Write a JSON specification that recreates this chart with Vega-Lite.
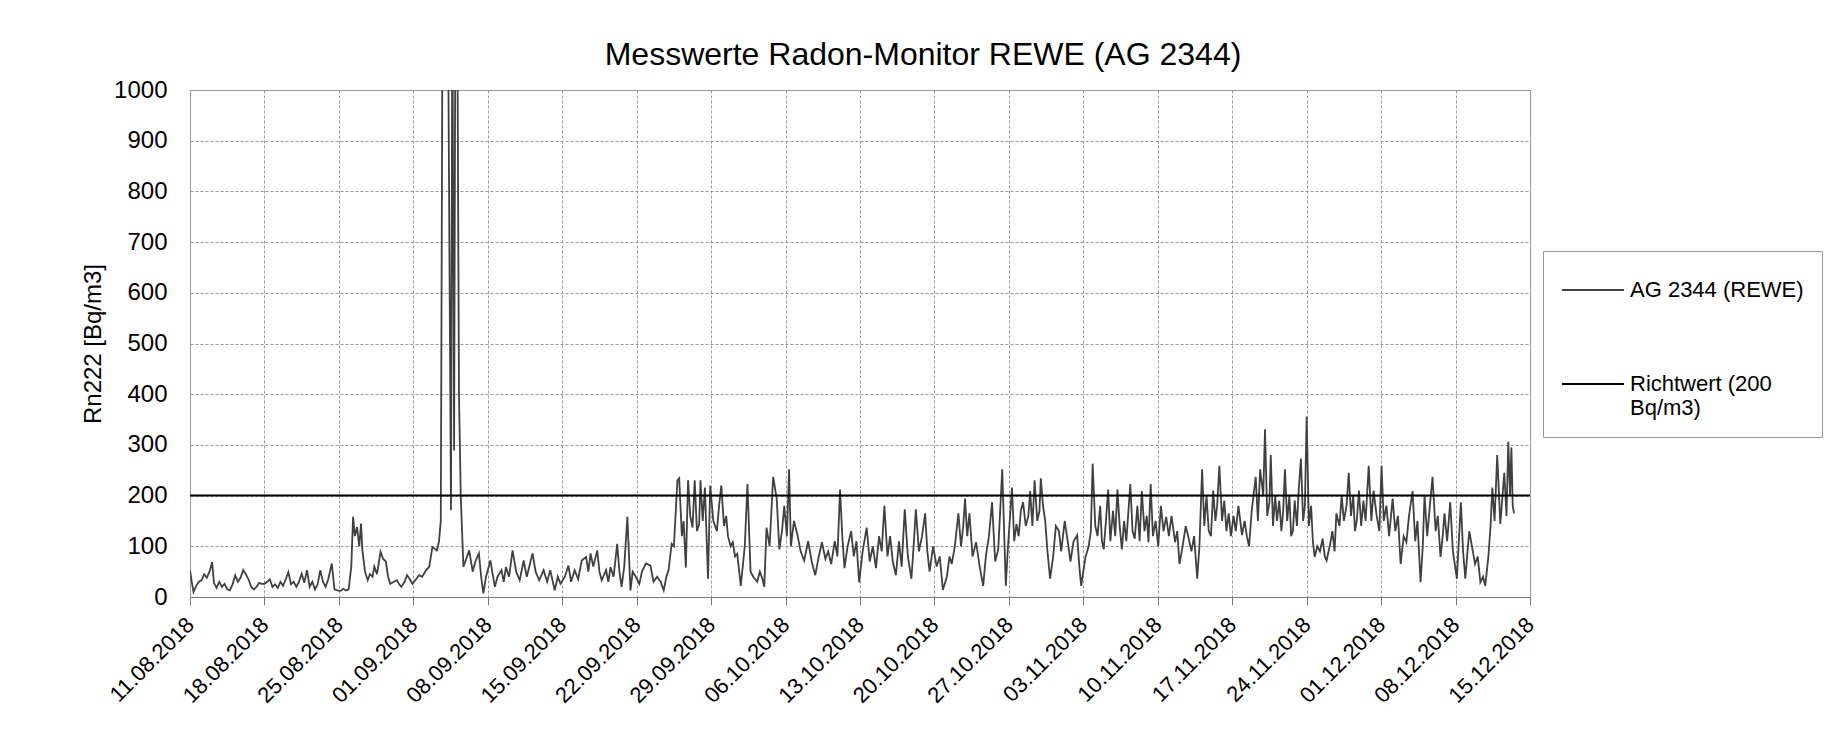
{
"$schema": "https://vega.github.io/schema/vega-lite/v6.json",
"width": 1340,
"height": 507,
"autosize": {"type": "none"},
"padding": {"left": 190, "top": 90, "right": 299, "bottom": 140},
"background": "#ffffff",
"title": {"text": "Messwerte Radon-Monitor REWE (AG 2344)", "fontSize": 32, "font": "Liberation Sans", "fontWeight": "normal", "color": "#000", "anchor": "middle", "dx": 63, "offset": -19, "baseline": "alphabetic"},
"config": {
  "view": {"stroke": "#999", "strokeWidth": 1},
  "axis": {"labelFont": "Liberation Sans", "titleFont": "Liberation Sans", "labelColor": "#000", "titleColor": "#000", "gridColor": "#999", "gridDash": [3, 2], "gridWidth": 1, "domainColor": "#777", "tickColor": "#777"},
  "legend": {"labelFont": "Liberation Sans"}
},
"layer": [
  {
    "data": {"name": "mess", "values": [
{"t":"2018-08-11T00:00","v":53},{"t":"2018-08-11T04:00","v":30},{"t":"2018-08-11T08:00","v":10},{"t":"2018-08-11T14:00","v":22},{"t":"2018-08-11T20:00","v":30},
{"t":"2018-08-12T02:00","v":33},{"t":"2018-08-12T08:00","v":45},{"t":"2018-08-12T14:00","v":38},{"t":"2018-08-12T20:00","v":50},
{"t":"2018-08-13T02:00","v":69},{"t":"2018-08-13T06:00","v":28},{"t":"2018-08-13T12:00","v":18},{"t":"2018-08-13T18:00","v":30},
{"t":"2018-08-14T00:00","v":20},{"t":"2018-08-14T06:00","v":26},{"t":"2018-08-14T12:00","v":15},{"t":"2018-08-14T18:00","v":13},
{"t":"2018-08-15T00:00","v":25},{"t":"2018-08-15T06:00","v":43},{"t":"2018-08-15T12:00","v":30},{"t":"2018-08-15T18:00","v":38},
{"t":"2018-08-16T00:00","v":53},{"t":"2018-08-16T06:00","v":45},{"t":"2018-08-16T12:00","v":35},{"t":"2018-08-16T18:00","v":20},
{"t":"2018-08-17T00:00","v":15},{"t":"2018-08-17T06:00","v":20},{"t":"2018-08-17T12:00","v":28},{"t":"2018-08-17T18:00","v":26},
{"t":"2018-08-18T00:00","v":26},{"t":"2018-08-18T06:00","v":30},{"t":"2018-08-18T12:00","v":35},{"t":"2018-08-18T18:00","v":20},
{"t":"2018-08-19T00:00","v":25},{"t":"2018-08-19T06:00","v":18},{"t":"2018-08-19T12:00","v":30},{"t":"2018-08-19T18:00","v":22},
{"t":"2018-08-20T00:00","v":35},{"t":"2018-08-20T06:00","v":49},{"t":"2018-08-20T12:00","v":25},{"t":"2018-08-20T18:00","v":30},
{"t":"2018-08-21T00:00","v":20},{"t":"2018-08-21T06:00","v":30},{"t":"2018-08-21T12:00","v":46},{"t":"2018-08-21T18:00","v":28},
{"t":"2018-08-22T00:00","v":53},{"t":"2018-08-22T06:00","v":20},{"t":"2018-08-22T12:00","v":30},{"t":"2018-08-22T18:00","v":15},
{"t":"2018-08-23T00:00","v":25},{"t":"2018-08-23T06:00","v":53},{"t":"2018-08-23T12:00","v":30},{"t":"2018-08-23T18:00","v":20},
{"t":"2018-08-24T00:00","v":35},{"t":"2018-08-24T08:00","v":66},{"t":"2018-08-24T14:00","v":15},{"t":"2018-08-24T20:00","v":13},
{"t":"2018-08-25T04:00","v":12},{"t":"2018-08-25T10:00","v":16},{"t":"2018-08-25T16:00","v":13},{"t":"2018-08-25T22:00","v":15},
{"t":"2018-08-26T04:00","v":60},{"t":"2018-08-26T08:00","v":158},{"t":"2018-08-26T12:00","v":120},{"t":"2018-08-26T17:00","v":138},{"t":"2018-08-26T22:00","v":100},
{"t":"2018-08-27T02:00","v":145},{"t":"2018-08-27T05:00","v":92},{"t":"2018-08-27T11:00","v":50},{"t":"2018-08-27T17:00","v":33},{"t":"2018-08-27T22:00","v":45},
{"t":"2018-08-28T04:00","v":40},{"t":"2018-08-28T08:00","v":60},{"t":"2018-08-28T14:00","v":45},{"t":"2018-08-28T22:00","v":89},
{"t":"2018-08-29T04:00","v":75},{"t":"2018-08-29T10:00","v":70},{"t":"2018-08-29T15:00","v":40},{"t":"2018-08-29T20:00","v":26},
{"t":"2018-08-30T04:00","v":30},{"t":"2018-08-30T11:00","v":33},{"t":"2018-08-30T16:00","v":25},{"t":"2018-08-30T21:00","v":20},
{"t":"2018-08-31T04:00","v":30},{"t":"2018-08-31T10:00","v":43},{"t":"2018-08-31T16:00","v":35},{"t":"2018-08-31T22:00","v":26},
{"t":"2018-09-01T06:00","v":35},{"t":"2018-09-01T13:00","v":43},{"t":"2018-09-01T20:00","v":40},
{"t":"2018-09-02T05:00","v":53},{"t":"2018-09-02T12:00","v":60},{"t":"2018-09-02T19:00","v":99},
{"t":"2018-09-03T05:00","v":92},{"t":"2018-09-03T10:00","v":110},{"t":"2018-09-03T14:00","v":151},{"t":"2018-09-03T18:00","v":1200},
{"t":"2018-09-04T06:00","v":1200},{"t":"2018-09-04T10:00","v":600},{"t":"2018-09-04T13:00","v":171},{"t":"2018-09-04T16:00","v":1200},{"t":"2018-09-04T20:00","v":289},{"t":"2018-09-04T23:00","v":1200},
{"t":"2018-09-05T03:00","v":1200},{"t":"2018-09-05T07:00","v":400},{"t":"2018-09-05T11:00","v":200},{"t":"2018-09-05T17:00","v":59},{"t":"2018-09-05T22:00","v":72},
{"t":"2018-09-06T06:00","v":92},{"t":"2018-09-06T14:00","v":50},{"t":"2018-09-06T20:00","v":70},
{"t":"2018-09-07T04:00","v":86},{"t":"2018-09-07T09:00","v":40},{"t":"2018-09-07T14:00","v":7},{"t":"2018-09-07T20:00","v":40},
{"t":"2018-09-08T06:00","v":72},{"t":"2018-09-08T11:00","v":45},{"t":"2018-09-08T16:00","v":20},{"t":"2018-09-08T22:00","v":40},
{"t":"2018-09-09T07:00","v":53},{"t":"2018-09-09T12:00","v":30},{"t":"2018-09-09T17:00","v":59},
{"t":"2018-09-10T00:00","v":40},{"t":"2018-09-10T08:00","v":92},{"t":"2018-09-10T16:00","v":50},
{"t":"2018-09-11T00:00","v":33},{"t":"2018-09-11T09:00","v":72},{"t":"2018-09-11T16:00","v":40},
{"t":"2018-09-12T05:00","v":86},{"t":"2018-09-12T12:00","v":50},{"t":"2018-09-12T20:00","v":33},
{"t":"2018-09-13T06:00","v":53},{"t":"2018-09-13T14:00","v":30},{"t":"2018-09-13T21:00","v":53},
{"t":"2018-09-14T07:00","v":13},{"t":"2018-09-14T14:00","v":40},{"t":"2018-09-14T20:00","v":26},
{"t":"2018-09-15T06:00","v":40},{"t":"2018-09-15T14:00","v":62},{"t":"2018-09-15T20:00","v":30},
{"t":"2018-09-16T04:00","v":53},{"t":"2018-09-16T12:00","v":35},{"t":"2018-09-16T20:00","v":72},
{"t":"2018-09-17T06:00","v":79},{"t":"2018-09-17T11:00","v":50},{"t":"2018-09-17T16:00","v":86},{"t":"2018-09-17T22:00","v":60},
{"t":"2018-09-18T07:00","v":92},{"t":"2018-09-18T12:00","v":50},{"t":"2018-09-18T17:00","v":33},
{"t":"2018-09-19T03:00","v":53},{"t":"2018-09-19T08:00","v":30},{"t":"2018-09-19T13:00","v":59},{"t":"2018-09-19T20:00","v":40},
{"t":"2018-09-20T04:00","v":105},{"t":"2018-09-20T09:00","v":50},{"t":"2018-09-20T14:00","v":20},{"t":"2018-09-20T20:00","v":60},
{"t":"2018-09-21T03:00","v":158},{"t":"2018-09-21T10:00","v":13},{"t":"2018-09-21T15:00","v":50},{"t":"2018-09-21T20:00","v":43},
{"t":"2018-09-22T06:00","v":26},{"t":"2018-09-22T12:00","v":50},{"t":"2018-09-22T21:00","v":66},
{"t":"2018-09-23T07:00","v":62},{"t":"2018-09-23T14:00","v":30},{"t":"2018-09-23T22:00","v":40},
{"t":"2018-09-24T06:00","v":30},{"t":"2018-09-24T13:00","v":13},{"t":"2018-09-24T19:00","v":40},
{"t":"2018-09-25T00:00","v":53},{"t":"2018-09-25T07:00","v":105},{"t":"2018-09-25T12:00","v":100},{"t":"2018-09-25T20:00","v":230},
{"t":"2018-09-26T00:00","v":234},{"t":"2018-09-26T06:00","v":120},{"t":"2018-09-26T10:00","v":150},{"t":"2018-09-26T15:00","v":58},{"t":"2018-09-26T20:00","v":230},
{"t":"2018-09-27T01:00","v":160},{"t":"2018-09-27T06:00","v":137},{"t":"2018-09-27T11:00","v":230},{"t":"2018-09-27T16:00","v":130},{"t":"2018-09-27T21:00","v":144},
{"t":"2018-09-28T00:00","v":230},{"t":"2018-09-28T05:00","v":150},{"t":"2018-09-28T10:00","v":216},{"t":"2018-09-28T17:00","v":36},{"t":"2018-09-28T22:00","v":220},
{"t":"2018-09-29T05:00","v":150},{"t":"2018-09-29T13:00","v":130},{"t":"2018-09-29T18:00","v":180},{"t":"2018-09-29T23:00","v":220},
{"t":"2018-09-30T05:00","v":140},{"t":"2018-09-30T10:00","v":160},{"t":"2018-09-30T14:00","v":120},{"t":"2018-09-30T20:00","v":100},
{"t":"2018-10-01T01:00","v":108},{"t":"2018-10-01T06:00","v":80},{"t":"2018-10-01T11:00","v":85},{"t":"2018-10-01T19:00","v":22},
{"t":"2018-10-02T04:00","v":100},{"t":"2018-10-02T10:00","v":223},{"t":"2018-10-02T17:00","v":50},{"t":"2018-10-02T23:00","v":40},
{"t":"2018-10-03T08:00","v":30},{"t":"2018-10-03T14:00","v":50},{"t":"2018-10-03T20:00","v":35},
{"t":"2018-10-04T00:00","v":20},{"t":"2018-10-04T05:00","v":137},{"t":"2018-10-04T12:00","v":100},{"t":"2018-10-04T20:00","v":237},
{"t":"2018-10-05T04:00","v":194},{"t":"2018-10-05T10:00","v":94},{"t":"2018-10-05T16:00","v":130},{"t":"2018-10-05T21:00","v":180},
{"t":"2018-10-06T03:00","v":120},{"t":"2018-10-06T08:00","v":252},{"t":"2018-10-06T12:00","v":100},{"t":"2018-10-06T19:00","v":150},
{"t":"2018-10-07T03:00","v":122},{"t":"2018-10-07T10:00","v":90},{"t":"2018-10-07T18:00","v":72},
{"t":"2018-10-08T03:00","v":110},{"t":"2018-10-08T11:00","v":70},{"t":"2018-10-08T19:00","v":43},
{"t":"2018-10-09T03:00","v":80},{"t":"2018-10-09T10:00","v":108},{"t":"2018-10-09T18:00","v":75},
{"t":"2018-10-10T00:00","v":90},{"t":"2018-10-10T07:00","v":65},{"t":"2018-10-10T15:00","v":110},{"t":"2018-10-10T21:00","v":80},
{"t":"2018-10-11T03:00","v":212},{"t":"2018-10-11T08:00","v":120},{"t":"2018-10-11T13:00","v":57},{"t":"2018-10-11T20:00","v":100},
{"t":"2018-10-12T04:00","v":130},{"t":"2018-10-12T10:00","v":80},{"t":"2018-10-12T16:00","v":110},{"t":"2018-10-12T22:00","v":29},
{"t":"2018-10-13T06:00","v":90},{"t":"2018-10-13T15:00","v":137},{"t":"2018-10-13T22:00","v":70},
{"t":"2018-10-14T05:00","v":100},{"t":"2018-10-14T12:00","v":57},{"t":"2018-10-14T19:00","v":120},
{"t":"2018-10-15T01:00","v":90},{"t":"2018-10-15T07:00","v":180},{"t":"2018-10-15T14:00","v":80},{"t":"2018-10-15T20:00","v":120},
{"t":"2018-10-16T02:00","v":70},{"t":"2018-10-16T09:00","v":43},{"t":"2018-10-16T16:00","v":110},{"t":"2018-10-16T22:00","v":60},
{"t":"2018-10-17T05:00","v":173},{"t":"2018-10-17T12:00","v":80},{"t":"2018-10-17T20:00","v":36},
{"t":"2018-10-18T01:00","v":100},{"t":"2018-10-18T06:00","v":173},{"t":"2018-10-18T13:00","v":90},{"t":"2018-10-18T20:00","v":120},
{"t":"2018-10-19T03:00","v":165},{"t":"2018-10-19T08:00","v":90},{"t":"2018-10-19T13:00","v":50},{"t":"2018-10-19T21:00","v":100},
{"t":"2018-10-20T05:00","v":60},{"t":"2018-10-20T12:00","v":80},{"t":"2018-10-20T19:00","v":14},
{"t":"2018-10-21T04:00","v":40},{"t":"2018-10-21T10:00","v":80},{"t":"2018-10-21T15:00","v":65},{"t":"2018-10-21T22:00","v":100},
{"t":"2018-10-22T06:00","v":165},{"t":"2018-10-22T12:00","v":100},{"t":"2018-10-22T17:00","v":140},{"t":"2018-10-22T21:00","v":194},
{"t":"2018-10-23T02:00","v":120},{"t":"2018-10-23T07:00","v":165},{"t":"2018-10-23T14:00","v":80},{"t":"2018-10-23T22:00","v":108},
{"t":"2018-10-24T06:00","v":60},{"t":"2018-10-24T14:00","v":22},{"t":"2018-10-24T20:00","v":80},
{"t":"2018-10-25T03:00","v":120},{"t":"2018-10-25T10:00","v":187},{"t":"2018-10-25T17:00","v":70},
{"t":"2018-10-26T00:00","v":94},{"t":"2018-10-26T09:00","v":252},{"t":"2018-10-26T17:00","v":22},{"t":"2018-10-26T22:00","v":100},
{"t":"2018-10-27T07:00","v":216},{"t":"2018-10-27T12:00","v":110},{"t":"2018-10-27T17:00","v":144},{"t":"2018-10-27T22:00","v":120},
{"t":"2018-10-28T03:00","v":170},{"t":"2018-10-28T08:00","v":187},{"t":"2018-10-28T14:00","v":140},{"t":"2018-10-28T20:00","v":160},
{"t":"2018-10-29T00:00","v":209},{"t":"2018-10-29T05:00","v":140},{"t":"2018-10-29T10:00","v":230},{"t":"2018-10-29T16:00","v":150},{"t":"2018-10-29T21:00","v":170},
{"t":"2018-10-30T00:00","v":234},{"t":"2018-10-30T05:00","v":180},{"t":"2018-10-30T10:00","v":150},{"t":"2018-10-30T15:00","v":90},{"t":"2018-10-30T21:00","v":36},
{"t":"2018-10-31T04:00","v":80},{"t":"2018-10-31T10:00","v":140},{"t":"2018-10-31T17:00","v":130},{"t":"2018-10-31T22:00","v":90},
{"t":"2018-11-01T06:00","v":150},{"t":"2018-11-01T13:00","v":108},{"t":"2018-11-01T19:00","v":70},
{"t":"2018-11-02T02:00","v":110},{"t":"2018-11-02T10:00","v":122},{"t":"2018-11-02T15:00","v":60},{"t":"2018-11-02T19:00","v":22},
{"t":"2018-11-03T05:00","v":79},{"t":"2018-11-03T12:00","v":100},{"t":"2018-11-03T17:00","v":130},{"t":"2018-11-03T21:00","v":263},
{"t":"2018-11-04T03:00","v":140},{"t":"2018-11-04T08:00","v":120},{"t":"2018-11-04T14:00","v":180},{"t":"2018-11-04T18:00","v":110},{"t":"2018-11-04T22:00","v":94},
{"t":"2018-11-05T03:00","v":150},{"t":"2018-11-05T08:00","v":212},{"t":"2018-11-05T13:00","v":110},{"t":"2018-11-05T19:00","v":170},
{"t":"2018-11-06T00:00","v":120},{"t":"2018-11-06T05:00","v":212},{"t":"2018-11-06T10:00","v":140},{"t":"2018-11-06T15:00","v":94},{"t":"2018-11-06T20:00","v":150},
{"t":"2018-11-07T01:00","v":110},{"t":"2018-11-07T05:00","v":160},{"t":"2018-11-07T10:00","v":223},{"t":"2018-11-07T15:00","v":130},{"t":"2018-11-07T20:00","v":115},
{"t":"2018-11-08T02:00","v":180},{"t":"2018-11-08T07:00","v":110},{"t":"2018-11-08T12:00","v":209},{"t":"2018-11-08T18:00","v":130},{"t":"2018-11-08T23:00","v":160},
{"t":"2018-11-09T03:00","v":108},{"t":"2018-11-09T08:00","v":223},{"t":"2018-11-09T13:00","v":120},{"t":"2018-11-09T19:00","v":150},
{"t":"2018-11-10T01:00","v":100},{"t":"2018-11-10T07:00","v":180},{"t":"2018-11-10T13:00","v":130},{"t":"2018-11-10T19:00","v":158},
{"t":"2018-11-11T01:00","v":120},{"t":"2018-11-11T07:00","v":160},{"t":"2018-11-11T15:00","v":108},{"t":"2018-11-11T20:00","v":130},
{"t":"2018-11-12T01:00","v":65},{"t":"2018-11-12T08:00","v":100},{"t":"2018-11-12T15:00","v":140},{"t":"2018-11-12T22:00","v":115},
{"t":"2018-11-13T04:00","v":90},{"t":"2018-11-13T10:00","v":120},{"t":"2018-11-13T17:00","v":36},{"t":"2018-11-13T22:00","v":100},
{"t":"2018-11-14T04:00","v":252},{"t":"2018-11-14T09:00","v":140},{"t":"2018-11-14T14:00","v":200},{"t":"2018-11-14T19:00","v":130},
{"t":"2018-11-15T00:00","v":120},{"t":"2018-11-15T05:00","v":210},{"t":"2018-11-15T10:00","v":150},{"t":"2018-11-15T14:00","v":180},{"t":"2018-11-15T19:00","v":259},
{"t":"2018-11-16T01:00","v":150},{"t":"2018-11-16T06:00","v":190},{"t":"2018-11-16T11:00","v":130},{"t":"2018-11-16T16:00","v":165},{"t":"2018-11-16T21:00","v":120},
{"t":"2018-11-17T03:00","v":160},{"t":"2018-11-17T08:00","v":130},{"t":"2018-11-17T14:00","v":180},{"t":"2018-11-17T22:00","v":122},
{"t":"2018-11-18T04:00","v":150},{"t":"2018-11-18T09:00","v":120},{"t":"2018-11-18T14:00","v":100},{"t":"2018-11-18T20:00","v":170},
{"t":"2018-11-19T05:00","v":237},{"t":"2018-11-19T10:00","v":150},{"t":"2018-11-19T15:00","v":252},{"t":"2018-11-19T22:00","v":200},
{"t":"2018-11-20T02:00","v":331},{"t":"2018-11-20T07:00","v":160},{"t":"2018-11-20T12:00","v":187},{"t":"2018-11-20T15:00","v":280},{"t":"2018-11-20T20:00","v":140},
{"t":"2018-11-21T01:00","v":200},{"t":"2018-11-21T05:00","v":150},{"t":"2018-11-21T10:00","v":190},{"t":"2018-11-21T15:00","v":130},{"t":"2018-11-21T19:00","v":170},{"t":"2018-11-21T23:00","v":252},
{"t":"2018-11-22T04:00","v":150},{"t":"2018-11-22T09:00","v":200},{"t":"2018-11-22T13:00","v":120},{"t":"2018-11-22T17:00","v":130},{"t":"2018-11-22T21:00","v":190},
{"t":"2018-11-23T02:00","v":140},{"t":"2018-11-23T06:00","v":210},{"t":"2018-11-23T11:00","v":273},{"t":"2018-11-23T16:00","v":150},{"t":"2018-11-23T20:00","v":180},
{"t":"2018-11-24T00:00","v":356},{"t":"2018-11-24T05:00","v":140},{"t":"2018-11-24T10:00","v":180},{"t":"2018-11-24T14:00","v":110},{"t":"2018-11-24T18:00","v":79},
{"t":"2018-11-25T00:00","v":100},{"t":"2018-11-25T06:00","v":90},{"t":"2018-11-25T12:00","v":115},{"t":"2018-11-25T17:00","v":80},{"t":"2018-11-25T21:00","v":72},
{"t":"2018-11-26T04:00","v":100},{"t":"2018-11-26T10:00","v":130},{"t":"2018-11-26T15:00","v":90},{"t":"2018-11-26T19:00","v":165},
{"t":"2018-11-27T02:00","v":140},{"t":"2018-11-27T07:00","v":200},{"t":"2018-11-27T12:00","v":150},{"t":"2018-11-27T18:00","v":180},{"t":"2018-11-27T23:00","v":245},
{"t":"2018-11-28T04:00","v":160},{"t":"2018-11-28T09:00","v":200},{"t":"2018-11-28T13:00","v":130},{"t":"2018-11-28T17:00","v":150},{"t":"2018-11-28T22:00","v":210},
{"t":"2018-11-29T03:00","v":140},{"t":"2018-11-29T08:00","v":190},{"t":"2018-11-29T13:00","v":150},{"t":"2018-11-29T20:00","v":259},
{"t":"2018-11-30T02:00","v":150},{"t":"2018-11-30T07:00","v":210},{"t":"2018-11-30T14:00","v":160},{"t":"2018-11-30T20:00","v":130},
{"t":"2018-12-01T01:00","v":259},{"t":"2018-12-01T06:00","v":150},{"t":"2018-12-01T12:00","v":180},{"t":"2018-12-01T18:00","v":120},
{"t":"2018-12-02T02:00","v":194},{"t":"2018-12-02T08:00","v":130},{"t":"2018-12-02T14:00","v":160},{"t":"2018-12-02T20:00","v":65},
{"t":"2018-12-03T03:00","v":120},{"t":"2018-12-03T09:00","v":108},{"t":"2018-12-03T15:00","v":160},{"t":"2018-12-03T23:00","v":209},
{"t":"2018-12-04T05:00","v":110},{"t":"2018-12-04T10:00","v":150},{"t":"2018-12-04T17:00","v":29},{"t":"2018-12-04T22:00","v":100},
{"t":"2018-12-05T02:00","v":201},{"t":"2018-12-05T08:00","v":120},{"t":"2018-12-05T14:00","v":180},{"t":"2018-12-05T20:00","v":237},
{"t":"2018-12-06T03:00","v":130},{"t":"2018-12-06T08:00","v":160},{"t":"2018-12-06T14:00","v":79},{"t":"2018-12-06T19:00","v":120},{"t":"2018-12-06T23:00","v":165},
{"t":"2018-12-07T05:00","v":110},{"t":"2018-12-07T12:00","v":187},{"t":"2018-12-07T18:00","v":90},
{"t":"2018-12-08T03:00","v":36},{"t":"2018-12-08T08:00","v":120},{"t":"2018-12-08T12:00","v":187},{"t":"2018-12-08T17:00","v":90},{"t":"2018-12-08T22:00","v":36},
{"t":"2018-12-09T03:00","v":90},{"t":"2018-12-09T07:00","v":130},{"t":"2018-12-09T13:00","v":100},{"t":"2018-12-09T20:00","v":65},
{"t":"2018-12-10T02:00","v":80},{"t":"2018-12-10T08:00","v":29},{"t":"2018-12-10T14:00","v":40},{"t":"2018-12-10T19:00","v":22},
{"t":"2018-12-11T02:00","v":79},{"t":"2018-12-11T07:00","v":140},{"t":"2018-12-11T11:00","v":216},{"t":"2018-12-11T16:00","v":150},{"t":"2018-12-11T22:00","v":280},
{"t":"2018-12-12T05:00","v":144},{"t":"2018-12-12T10:00","v":200},{"t":"2018-12-12T14:00","v":245},{"t":"2018-12-12T19:00","v":160},{"t":"2018-12-12T23:00","v":306},
{"t":"2018-12-13T03:00","v":200},{"t":"2018-12-13T06:00","v":295},{"t":"2018-12-13T09:00","v":180},{"t":"2018-12-13T12:00","v":165}
    ]},
    "mark": {"type": "line", "strokeWidth": 1.8, "clip": true, "interpolate": "linear"},
    "encoding": {
      "x": {"field": "t", "type": "temporal",
        "scale": {"domain": [{"year": 2018, "month": 8, "date": 11}, {"year": 2018, "month": 12, "date": 15}]},
        "axis": {"title": null, "format": "%d.%m.%Y", "labelAngle": -45, "labelFontSize": 22, "labelAlign": "right", "labelBaseline": "middle", "labelPadding": 16, "tickSize": 8, "labelOverlap": false, "labelFlush": false,
          "values": [{"year":2018,"month":8,"date":11},{"year":2018,"month":8,"date":18},{"year":2018,"month":8,"date":25},{"year":2018,"month":9,"date":1},{"year":2018,"month":9,"date":8},{"year":2018,"month":9,"date":15},{"year":2018,"month":9,"date":22},{"year":2018,"month":9,"date":29},{"year":2018,"month":10,"date":6},{"year":2018,"month":10,"date":13},{"year":2018,"month":10,"date":20},{"year":2018,"month":10,"date":27},{"year":2018,"month":11,"date":3},{"year":2018,"month":11,"date":10},{"year":2018,"month":11,"date":17},{"year":2018,"month":11,"date":24},{"year":2018,"month":12,"date":1},{"year":2018,"month":12,"date":8},{"year":2018,"month":12,"date":15}]}},
      "y": {"field": "v", "type": "quantitative",
        "scale": {"domain": [0, 1000], "nice": false},
        "axis": {"title": "Rn222 [Bq/m3]", "format": "d", "titleFontSize": 24, "titleFontWeight": "normal", "titlePadding": 8, "labelFontSize": 24, "labelPadding": 23, "ticks": false, "domain": false, "values": [0,100,200,300,400,500,600,700,800,900,1000]}},
      "color": {"datum": "AG 2344 (REWE)", "type": "nominal",
        "scale": {"domain": ["AG 2344 (REWE)", "Richtwert (200 Bq/m3)"], "range": ["#404040", "#000000"]},
        "legend": {"title": null, "orient": "none", "legendX": 1353, "legendY": 161, "direction": "vertical", "strokeColor": "#999", "padding": 18, "symbolType": "M-1,0H2.1", "symbolSize": 1600, "symbolStrokeWidth": 2, "labelFontSize": 22, "labelColor": "#000", "labelOffset": 27, "labelLimit": 400, "rowPadding": 62,
          "labelExpr": "datum.label == 'Richtwert (200 Bq/m3)' ? ['Richtwert (200', 'Bq/m3)'] : datum.label"}}
    }
  },
  {
    "data": {"values": [{"g": 200}]},
    "mark": {"type": "rule", "strokeWidth": 2},
    "encoding": {
      "y": {"field": "g", "type": "quantitative"},
      "color": {"datum": "Richtwert (200 Bq/m3)", "type": "nominal"}
    }
  }
]
}
